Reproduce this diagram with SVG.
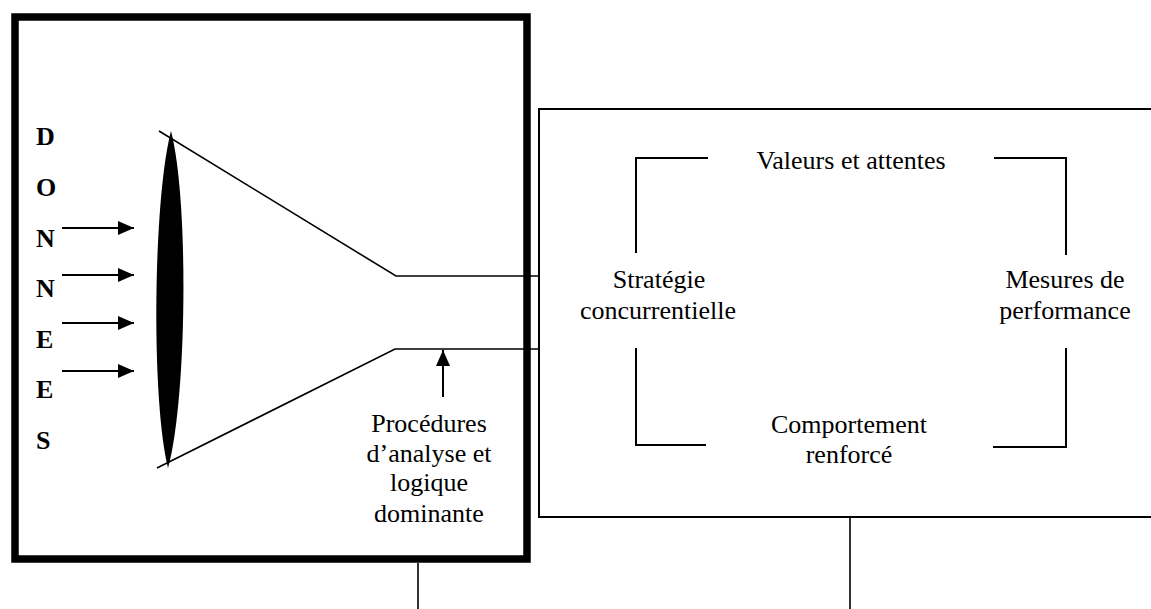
<svg xmlns="http://www.w3.org/2000/svg" width="1151" height="609" viewBox="0 0 1151 609">
  <defs>
    <style>
      .lbl { font-family: "Liberation Serif", "Times New Roman", serif; font-size: 26px; fill: #000; text-anchor: middle; }
      .ltr { font-family: "Liberation Serif", "Times New Roman", serif; font-size: 26px; font-weight: bold; fill: #000; }
      .ln { fill: none; stroke: #000; stroke-width: 2; }
      .thin { fill: none; stroke: #000; stroke-width: 1.6; }
    </style>
    <marker id="head" viewBox="0 0 16 14" refX="16" refY="7" markerWidth="16" markerHeight="14" markerUnits="userSpaceOnUse" orient="auto">
      <path d="M0,0 L16,7 L0,14 Z" fill="#000"/>
    </marker>
  </defs>
  <rect width="1151" height="609" fill="#fff"/>

  <!-- Data processing frame -->
  <g id="frame-donnees">
    <rect x="15" y="17" width="512" height="542" fill="none" stroke="#000" stroke-width="7.5"/>
    <text class="ltr" x="36" y="145">D</text>
    <text class="ltr" x="36" y="196">O</text>
    <text class="ltr" x="36" y="246.5">N</text>
    <text class="ltr" x="36" y="297">N</text>
    <text class="ltr" x="36" y="347.5">E</text>
    <text class="ltr" x="36" y="398">E</text>
    <text class="ltr" x="36" y="448.5">S</text>
  </g>

  <!-- Lens -->
  <g id="lens">
    <path d="M171,131 C153,200 151,400 168,468 C187,400 189,200 171,131 Z" fill="#000"/>
  </g>

  <!-- Analysis label -->
  <g id="procedures">
    <text class="lbl" x="429" y="432">Procédures</text>
    <text class="lbl" x="429" y="462">d’analyse et</text>
    <text class="lbl" x="429" y="491">logique</text>
    <text class="lbl" x="429" y="522">dominante</text>
  </g>

  <!-- Culture frame -->
  <g id="frame-culture">
    <path d="M1152,109 H539 V517 H1152" class="ln"/>
  </g>

  <g id="valeurs">
    <text class="lbl" x="851" y="169">Valeurs et attentes</text>
  </g>
  <g id="strategie">
    <text class="lbl" x="659" y="288">Stratégie</text>
    <text class="lbl" x="658" y="319">concurrentielle</text>
  </g>
  <g id="mesures">
    <text class="lbl" x="1065" y="288">Mesures de</text>
    <text class="lbl" x="1065" y="319">performance</text>
  </g>
  <g id="comportement">
    <text class="lbl" x="849" y="433">Comportement</text>
    <text class="lbl" x="849" y="463">renforcé</text>
  </g>

  <!-- Connectors -->
  <g id="connectors">
    <!-- funnel -->
    <path d="M159,131 L396,276 H539" class="thin"/>
    <path d="M157,468 L395,349 H539" class="thin"/>
    <!-- incoming data -->
    <line x1="62" y1="228" x2="134" y2="228" class="ln" marker-end="url(#head)"/>
    <line x1="62" y1="275" x2="134" y2="275" class="ln" marker-end="url(#head)"/>
    <line x1="62" y1="323" x2="134" y2="323" class="ln" marker-end="url(#head)"/>
    <line x1="62" y1="371" x2="134" y2="371" class="ln" marker-end="url(#head)"/>
    <!-- procedures pointer -->
    <line x1="443" y1="397" x2="443" y2="350" class="ln" marker-end="url(#head)"/>
    <!-- cycle brackets -->
    <path d="M708,158 H636 V253" class="ln"/>
    <path d="M994,158 H1066 V255" class="ln"/>
    <path d="M636,348 V445 H706" class="ln"/>
    <path d="M1066,348 V447 H993" class="ln"/>
    <!-- outgoing links -->
    <line x1="418" y1="563" x2="418" y2="609" class="thin"/>
    <line x1="850" y1="517" x2="850" y2="609" class="thin"/>
  </g>
</svg>
